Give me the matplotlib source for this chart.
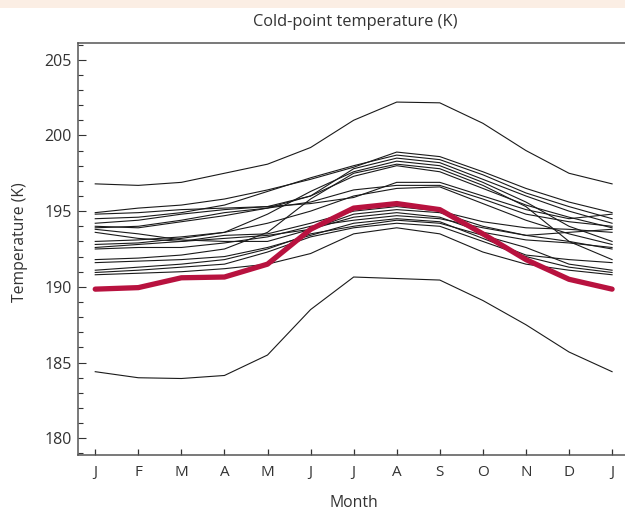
import numpy as np
import matplotlib
matplotlib.use('Agg')
import matplotlib.pyplot as plt
from matplotlib.patches import Rectangle
from matplotlib.ticker import MultipleLocator

plt.rcParams['font.family'] = ['Open Sans', 'DejaVu Sans']

# Month labels (J ... D, then January again to close the year)
months = ['J', 'F', 'M', 'A', 'M', 'J', 'J', 'A', 'S', 'O', 'N', 'D', 'J']

# Observed cold-point temperature (red)
observed = [189.85, 189.95, 190.6, 190.65, 191.5, 193.8, 195.2, 195.5, 195.1, 193.5, 191.8, 190.5, 189.85]

# Model runs (black)
model_top = [196.8, 196.7, 196.9, 197.5, 198.1, 199.2, 201.0, 202.2, 202.15, 200.8, 199.0, 197.5, 196.8]
model_bottom = [184.4, 184.0, 183.95, 184.15, 185.5, 188.5, 190.65, 190.55, 190.45, 189.1, 187.5, 185.7, 184.4]

model_u1 = [194.9, 195.2, 195.4, 195.8, 196.4, 197.1, 197.9, 198.9, 198.6, 197.6, 196.5, 195.6, 194.9]
model_u2 = [194.5, 194.6, 194.9, 195.4, 196.3, 197.2, 198.0, 198.7, 198.4, 197.4, 196.2, 195.3, 194.5]
model_u3 = [194.2, 194.4, 194.8, 195.1, 195.3, 196.0, 197.8, 198.5, 198.2, 197.1, 196.0, 195.0, 194.2]
model_u4 = [193.0, 193.1, 193.3, 193.6, 194.8, 196.3, 197.6, 198.3, 198.0, 196.9, 195.6, 194.0, 193.0]
model_u5 = [191.8, 191.9, 192.1, 192.5, 193.6, 195.8, 197.5, 198.1, 197.8, 196.7, 195.3, 193.0, 191.8]
model_u6 = [193.9, 194.0, 194.4, 194.9, 195.2, 196.0, 197.3, 198.0, 197.6, 196.5, 195.4, 194.6, 193.9]

model_m1 = [194.8, 194.9, 195.1, 195.2, 195.3, 195.5, 195.9, 196.9, 196.9, 196.0, 195.1, 194.5, 194.8]
model_m2 = [194.0, 193.9, 194.3, 194.7, 195.2, 195.6, 196.4, 196.7, 196.7, 195.8, 194.8, 194.3, 194.0]
model_m3 = [192.8, 192.9, 193.2, 193.6, 194.2, 195.0, 196.0, 196.5, 196.6, 195.5, 194.4, 193.5, 192.8]

model_d1 = [193.6, 193.2, 193.0, 193.4, 193.5, 194.2, 195.0, 195.3, 195.0, 194.3, 193.9, 193.8, 193.6]
model_d2 = [193.8, 193.5, 193.1, 193.0, 193.0, 193.8, 194.8, 195.1, 194.9, 194.0, 193.4, 193.6, 193.8]
model_d3 = [192.6, 192.8, 193.0, 193.2, 193.4, 193.8, 194.6, 194.9, 194.6, 193.6, 193.1, 192.9, 192.6]
model_d4 = [192.5, 192.6, 192.6, 192.9, 193.3, 194.0, 194.4, 194.7, 194.5, 193.9, 193.4, 193.0, 192.5]
model_d5 = [191.6, 191.7, 191.8, 192.0, 192.6, 193.4, 194.2, 194.5, 194.3, 193.2, 192.1, 191.8, 191.6]
model_d6 = [191.1, 191.3, 191.5, 191.8, 192.5, 193.5, 194.0, 194.4, 194.2, 193.4, 192.6, 191.5, 191.1]
model_d7 = [190.95, 191.1, 191.3, 191.5, 192.3, 193.3, 193.9, 194.2, 194.0, 193.0, 192.0, 191.3, 190.95]
model_d8 = [190.8, 190.9, 191.0, 191.2, 191.5, 192.2, 193.5, 193.9, 193.5, 192.3, 191.5, 191.1, 190.8]

model_runs = [model_top, model_bottom,
              model_u1, model_u2, model_u3, model_u4, model_u5, model_u6,
              model_m1, model_m2, model_m3,
              model_d1, model_d2, model_d3, model_d4, model_d5, model_d6, model_d7, model_d8]

text_col = '#333333'
spine_col = '#555555'

fig = plt.figure(figsize=(6.25, 5.17), dpi=100)
# light peach strip along the top edge
fig.patches.append(Rectangle((0, 1 - 8 / 517), 1, 8 / 517, transform=fig.transFigure,
                             facecolor='#fbeee4', edgecolor='none', zorder=0))

ax = fig.add_axes([78 / 625, 1 - 455 / 517, 1 - 78 / 625, (455 - 43) / 517])

x = np.arange(len(months))
for run in model_runs:
    ax.plot(x, run, color='#1a1a1a', lw=0.8, solid_joinstyle='miter')
ax.plot(x, observed, color='#b8123f', lw=3.8, solid_capstyle='round', solid_joinstyle='round', zorder=5)

ax.set_xlim(-0.40, 12.30)
ax.set_ylim(178.9, 206.1)
ax.set_xticks(x)
ax.set_xticklabels(months)
ax.yaxis.set_major_locator(MultipleLocator(5))
ax.yaxis.set_minor_locator(MultipleLocator(1))

ax.spines['right'].set_visible(False)
for s in ['left', 'bottom', 'top']:
    ax.spines[s].set_color(spine_col)
    ax.spines[s].set_linewidth(1.1)

ax.tick_params(axis='y', which='major', direction='in', length=5.5, width=0.8, color='#333333',
               labelsize=11.5, labelcolor=text_col, pad=4.5)
ax.tick_params(axis='y', which='minor', direction='in', length=3.6, width=0.8, color='#333333')
ax.tick_params(axis='x', which='major', direction='in', length=4.5, width=0.9, color='#333333',
               labelsize=11, labelcolor=text_col, pad=7)

fig.text(355 / 625, 1 - 22.5 / 517, 'Cold-point temperature (K)', ha='center', va='center',
         fontsize=11.8, color=text_col)
fig.text(354 / 625, 1 - 503 / 517, 'Month', ha='center', va='center', fontsize=11.3, color=text_col)
fig.text(20 / 625, 1 - 242 / 517, 'Temperature (K)', ha='center', va='center', rotation=90,
         fontsize=11.3, color=text_col)

fig.savefig('out.png', dpi=100)
